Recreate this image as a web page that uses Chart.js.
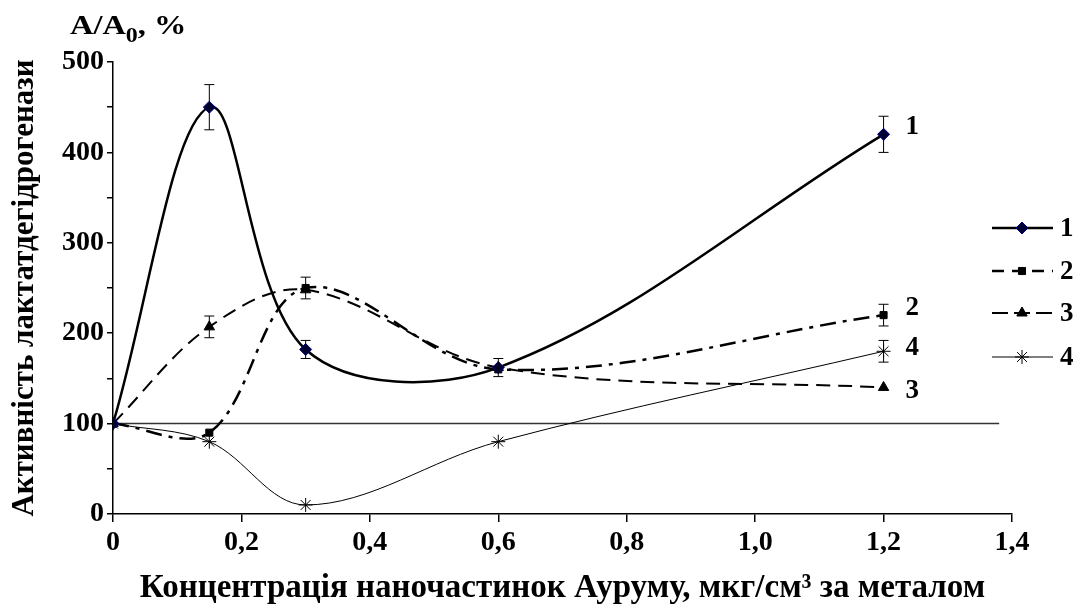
<!DOCTYPE html>
<html>
<head>
<meta charset="utf-8">
<script src="https://cdn.jsdelivr.net/npm/chart.js@4.4.1/dist/chart.umd.min.js"></script>
<style>
    html, body { margin: 0; padding: 0; background: #fff; }
    #wrap { width: 1084px; height: 610px; position: relative; }
</style>
</head>
<body>
<div id="wrap"><canvas id="ldhChart"></canvas></div>
<script>
// concentrations, mkg/cm3
const concentrations = [0, 0.15, 0.3, 0.6, 1.2];

// A/A0, %
const series1 = [100, 450, 182, 162, 420];
const series2 = [100, 90, 250, 160, 220];
const series3 = [100, 207, 248, 162, 140];
const series4 = [100, 80, 10, 80, 180];

// error bars (null = none)
const err1 = [null, 25, 10, 10, 20];
const err2 = [null, null, 12, null, 12];
const err3 = [null, 12, null, null, null];
const err4 = [null, null, null, null, 12];

const seriesLabels = ['1', '2', '3', '4'];
const baseLine = [100, 100];
const baseLineX = [0, 1.38];

const serif = '"Liberation Serif", "Times New Roman", serif';

const toPoints = (xs, ys) => xs.map((x, i) => ({ x: x, y: ys[i] }));

// error bars drawn through the scales
const errorBarPlugin = {
    id: 'errorBars',
    afterDatasetsDraw(chart) {
        const ctx = chart.ctx;
        const xs = chart.scales.x, ys = chart.scales.y;
        chart.data.datasets.forEach(ds => {
            if (!ds.errors) return;
            ds.errors.forEach((e, i) => {
                if (e == null) return;
                const px = xs.getPixelForValue(ds.data[i].x);
                const top = ys.getPixelForValue(ds.data[i].y + e);
                const bot = ys.getPixelForValue(ds.data[i].y - e);
                ctx.save();
                ctx.strokeStyle = '#000';
                ctx.lineWidth = 1;
                ctx.beginPath();
                ctx.moveTo(px, top); ctx.lineTo(px, bot);
                ctx.moveTo(px - 5, top); ctx.lineTo(px + 5, top);
                ctx.moveTo(px - 5, bot); ctx.lineTo(px + 5, bot);
                ctx.stroke();
                ctx.restore();
            });
        });
    }
};

// texts: y unit on top, curve numbers, and the legend at right
const textPlugin = {
    id: 'texts',
    afterDraw(chart) {
        const ctx = chart.ctx;
        const xs = chart.scales.x, ys = chart.scales.y;
        ctx.save();
        ctx.fillStyle = '#000';
        ctx.textBaseline = 'alphabetic';
        ctx.textAlign = 'left';

        // A/A0, %  (slightly stretched like the original)
        ctx.save();
        ctx.translate(70, 34);
        ctx.scale(1.2, 1);
        ctx.font = 'bold 27px ' + serif;
        ctx.fillText('A/A', 0, 0);
        const w = ctx.measureText('A/A').width;
        ctx.font = 'bold 20px ' + serif;
        ctx.fillText('0', w, 8);
        const w0 = ctx.measureText('0').width;
        ctx.font = 'bold 27px ' + serif;
        ctx.fillText(', %', w + w0, 0);
        ctx.restore();

        // numbers at curve ends
        ctx.font = 'bold 27px ' + serif;
        ctx.textBaseline = 'middle';
        const endX = xs.getPixelForValue(concentrations[4]) + 22;
        ctx.fillText('1', endX, ys.getPixelForValue(series1[4]) - 7);
        ctx.fillText('2', endX, ys.getPixelForValue(series2[4]) - 7);
        ctx.fillText('4', endX, ys.getPixelForValue(series4[4]) - 3);
        ctx.fillText('3', endX, ys.getPixelForValue(series3[4]) + 4);

        // legend
        const rowsY = [228, 271, 313, 357];
        chart.data.datasets.slice(0, 4).forEach((ds, i) => {
            const y = rowsY[i];
            ctx.save();
            ctx.strokeStyle = '#000';
            ctx.lineWidth = ds.borderWidth;
            ctx.setLineDash(ds.legendDash || []);
            ctx.beginPath();
            ctx.moveTo(992, y); ctx.lineTo(1053, y);
            ctx.stroke();
            ctx.restore();
            ctx.save();
            ctx.fillStyle = ds.pointBackgroundColor;
            ctx.strokeStyle = ds.pointBorderColor;
            Chart.helpers.drawPoint(ctx, {
                pointStyle: ds.pointStyle,
                radius: ds.pointRadius,
                borderWidth: 1,
                rotation: 0
            }, 1022, y);
            ctx.restore();
            ctx.fillStyle = '#000';
            ctx.fillText(seriesLabels[i], 1060, y + 1);
        });
        ctx.restore();
    }
};

new Chart(document.getElementById('ldhChart'), {
    type: 'line',
    data: {
        datasets: [
            {
                label: seriesLabels[0],
                data: toPoints(concentrations, series1),
                errors: err1,
                borderColor: '#000',
                borderWidth: 2.5,
                tension: 0.35,
                pointStyle: 'rectRot',
                pointRadius: 6,
                pointBackgroundColor: '#000033',
                pointBorderColor: '#000080',
                pointBorderWidth: 1
            },
            {
                label: seriesLabels[1],
                data: toPoints(concentrations, series2),
                errors: err2,
                borderColor: '#000',
                borderWidth: 2.5,
                borderDash: [16, 7, 4, 7],
                legendDash: [12, 8],
                tension: 0.35,
                pointStyle: 'rect',
                pointRadius: 5,
                pointBackgroundColor: '#000',
                pointBorderColor: '#000',
                pointBorderWidth: 1
            },
            {
                label: seriesLabels[2],
                data: toPoints(concentrations, series3),
                errors: err3,
                borderColor: '#000',
                borderWidth: 2,
                borderDash: [14, 8],
                legendDash: [16, 6],
                tension: 0.35,
                pointStyle: 'triangle',
                pointRadius: 6,
                pointBackgroundColor: '#000',
                pointBorderColor: '#000',
                pointBorderWidth: 1
            },
            {
                label: seriesLabels[3],
                data: toPoints(concentrations, series4),
                errors: err4,
                borderColor: '#000',
                borderWidth: 1,
                tension: 0.35,
                pointStyle: 'star',
                pointRadius: 7,
                pointBackgroundColor: '#000',
                pointBorderColor: '#000',
                pointBorderWidth: 1
            },
            {
                label: 'base',
                data: toPoints(baseLineX, baseLine),
                borderColor: '#333',
                borderWidth: 1.5,
                pointRadius: 0,
                tension: 0
            }
        ]
    },
    options: {
        responsive: true,
        maintainAspectRatio: false,
        animation: false,
        layout: { padding: { top: 62, right: 72, left: 0, bottom: 0 } },
        plugins: {
            legend: { display: false },
            tooltip: { enabled: false }
        },
        scales: {
            x: {
                type: 'linear',
                min: 0,
                max: 1.4,
                afterFit: (scale) => { scale.height = 96; },
                border: { color: '#000', width: 1.5 },
                grid: { drawOnChartArea: false, drawTicks: true, tickLength: 8, color: '#000', lineWidth: 1.5 },
                ticks: {
                    stepSize: 0.2,
                    padding: 4,
                    color: '#000',
                    font: { family: serif, size: 28, weight: 'bold' },
                    callback: (v) => v === 0 ? '0' : v.toFixed(1).replace('.', ',')
                },
                title: {
                    display: true,
                    text: 'Концентрація наночастинок Ауруму, мкг/см³ за металом',
                    color: '#000',
                    font: { family: serif, size: 33, weight: 'bold' },
                    padding: { top: 4, bottom: 2 }
                }
            },
            y: {
                min: 0,
                max: 500,
                afterFit: (scale) => { scale.width = 113; },
                border: { color: '#000', width: 1.5 },
                grid: { drawOnChartArea: false, drawTicks: true, tickLength: 6, color: '#000', lineWidth: 1.5 },
                ticks: {
                    stepSize: 50,
                    padding: 3,
                    color: '#000',
                    font: { family: serif, size: 28, weight: 'bold' },
                    callback: (v) => v % 100 === 0 ? v : ''
                },
                title: {
                    display: true,
                    text: 'Активність лактатдегідрогенази',
                    color: '#000',
                    font: { family: serif, size: 31, weight: 'bold' },
                    padding: { top: 6, bottom: 0 }
                }
            }
        }
    },
    plugins: [errorBarPlugin, textPlugin]
});
</script>
</body>
</html>
